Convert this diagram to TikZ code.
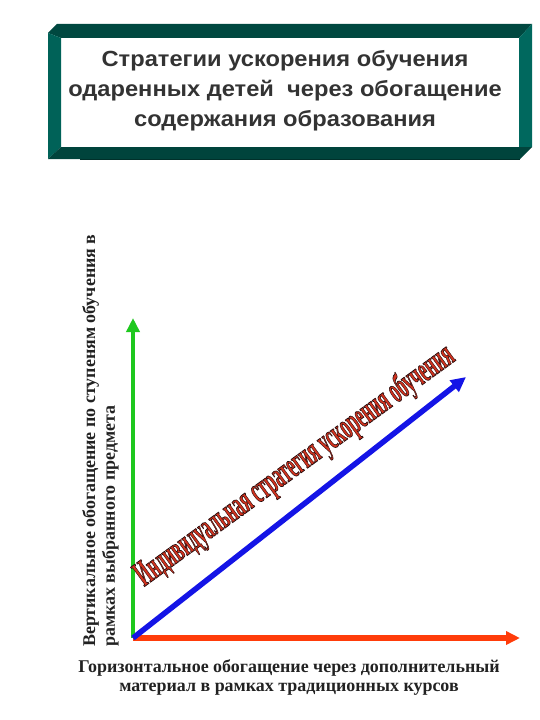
\documentclass[tikz,border=0pt]{standalone}
\usepackage{fontspec}
\setmainfont{Liberation Serif}
\newfontfamily\headfont{Liberation Sans}[FakeStretch=1.08]
\usepackage{xcolor}
\usepackage{graphicx}
\usetikzlibrary{arrows.meta}

\definecolor{frametop}{RGB}{0,72,64}
\definecolor{frameleft}{RGB}{0,98,88}
\definecolor{frameright}{RGB}{0,104,94}
\definecolor{framebottom}{RGB}{0,68,60}
\definecolor{headgray}{RGB}{51,51,51}
\definecolor{labelgray}{RGB}{34,34,34}
\definecolor{vertgreen}{RGB}{30,200,30}
\definecolor{horizred}{RGB}{255,60,10}
\definecolor{diagblue}{RGB}{20,20,230}
\definecolor{diagred}{RGB}{210,50,30}
% red letters with a thin dark edge
\newcommand{\outlined}[1]{\special{pdf:literal direct 0.15 0.05 0.05 RG 0.7 w 2 Tr}#1\special{pdf:literal direct 0 Tr}}

\begin{document}
\begin{tikzpicture}[x=1bp,y=-1bp,
        axis/.style={line width=5bp,-{Triangle[length=14bp,width=13bp]}},
        axislabel/.style={font=\bfseries\fontsize{18}{20}\selectfont,text=labelgray,inner sep=0pt}]
        \useasboundingbox (0,0) rectangle (540,720);

        %% Title frame
        \fill[frametop] (48,33) -- (57,24) -- (532,24) -- (519,38) -- (61,38) -- cycle;
        \fill[frameleft] (48,33) -- (61,38) -- (61,147) -- (48,159) -- cycle;
        \fill[frameright] (532,24) -- (532,147) -- (519,147) -- (519,38) -- cycle;
        \fill[framebottom] (48,159) -- (61,147) -- (532,147) -- (520,159) -- cycle;
        \draw[framebottom!70!black, line width=1bp] (80,159.5) -- (520,159.5);
        \node[font=\headfont\bfseries\fontsize{22}{30}\selectfont, text=headgray,
              align=center, inner sep=0pt, anchor=north] (title) at (285,50)
              {Стратегии ускорения обучения\\
               одаренных детей\ \ через обогащение\\
               содержания образования};

        % Axes
        \coordinate (O) at (133,638);
        \coordinate (vtip) at (133,318);
        \coordinate (htip) at (520,638);
        \coordinate (dtip) at (466,377);
        \draw[axis, vertgreen, line width=4bp] (O) -- (vtip);
        \draw[axis, horizred, line width=5.5bp] (O) -- (htip);
        \draw[axis, diagblue, line width=5.5bp, -{Triangle[length=15bp,width=14bp]}] (O) -- (dtip);

        % Labels
        \node[axislabel, align=left, rotate=90, anchor=south west] (vlabel) at (119,647)
              {Вертикальное обогащение по ступеням обучения в\\
               рамках выбранного предмета};
        \node[axislabel, align=center, anchor=north] (hlabel) at (289,659)
              {Горизонтальное обогащение через дополнительный\\
               материал в рамках традиционных курсов};
        \node[rotate=36, inner sep=0pt] (strategy) at (295,466)
              {\resizebox{386bp}{26bp}{\bfseries\fontsize{33}{33}\selectfont
               \textcolor{diagred}{\outlined{Индивидуальная стратегия ускорения обучения}}}};
\end{tikzpicture}
\end{document}
